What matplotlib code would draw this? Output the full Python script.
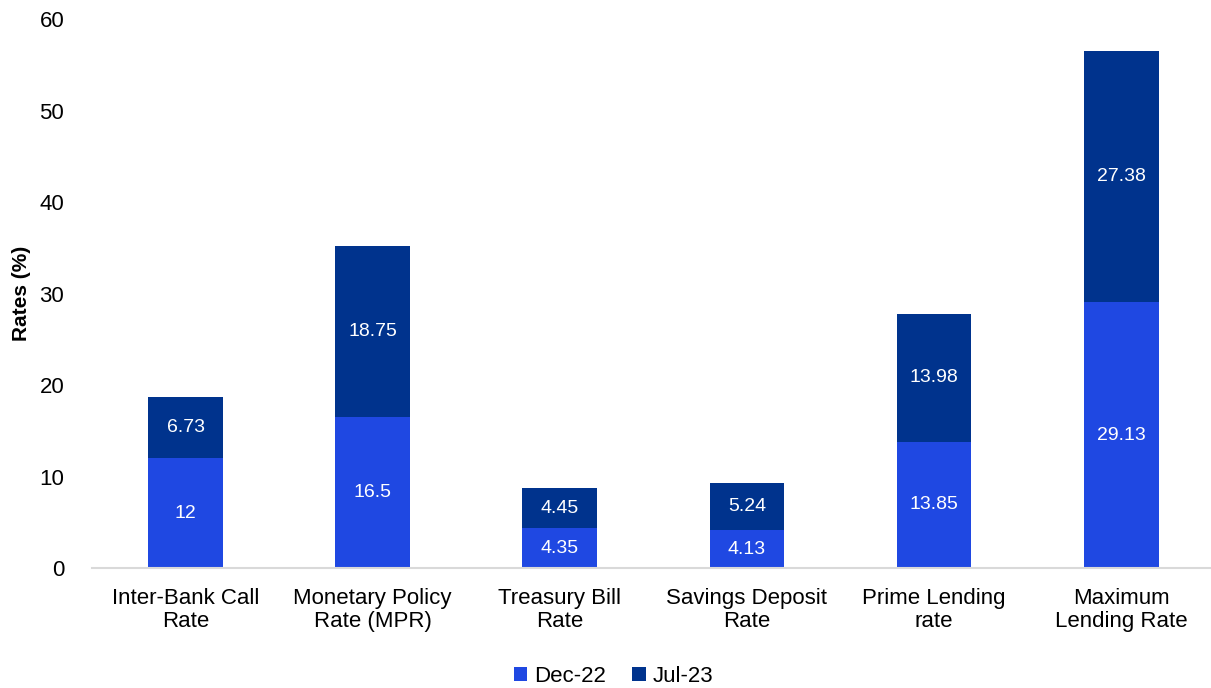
import numpy as np
import matplotlib.pyplot as plt

plt.rcParams['font.family'] = ['Liberation Sans', 'DejaVu Sans']

categories = ['Inter-Bank Call\nRate', 'Monetary Policy\nRate (MPR)', 'Treasury Bill\nRate',
              'Savings Deposit\nRate', 'Prime Lending\nrate', 'Maximum\nLending Rate']
dec22 = [12, 16.5, 4.35, 4.13, 13.85, 29.13]
jul23 = [6.73, 18.75, 4.45, 5.24, 13.98, 27.38]

c_dec = '#1f48e2'
c_jul = '#00338d'

fig = plt.figure(figsize=(12.11, 6.88), dpi=100)
ax = fig.add_axes([0.076, 0.174, 0.924, 0.798])

x = np.arange(len(categories))
w = 0.4
b1 = ax.bar(x, dec22, w, color=c_dec, label='Dec-22')
b2 = ax.bar(x, jul23, w, bottom=dec22, color=c_jul, label='Jul-23')

for bars, vals, base in [(b1, dec22, [0] * 6), (b2, jul23, dec22)]:
    for r, v, b in zip(bars, vals, base):
        ax.text(r.get_x() + r.get_width() / 2, b + v / 2, f'{v:g}',
                ha='center', va='center', color='white', fontsize=14)

ax.set_xlim(-0.5, 5.48)
ax.set_ylim(0, 60)
ax.set_yticks(range(0, 61, 10))
ax.set_xticks(x)
ax.set_xticklabels(categories, fontsize=16, linespacing=1.15)
ax.tick_params(axis='y', labelsize=16, length=0, pad=20)
ax.tick_params(axis='x', length=0, pad=14)
ax.set_ylabel('Rates (%)', fontsize=15, fontweight='bold', labelpad=6)

for s in ['top', 'right', 'left']:
    ax.spines[s].set_visible(False)
ax.spines['bottom'].set_color('#d9d9d9')
ax.spines['bottom'].set_linewidth(1.5)

ax.legend(loc='lower center', bbox_to_anchor=(0.466, -0.245), ncol=2, frameon=False,
          fontsize=16, handlelength=0.6, handleheight=0.6, handletextpad=0.3,
          columnspacing=1.2, borderpad=0.2)

fig.savefig('out.png')
